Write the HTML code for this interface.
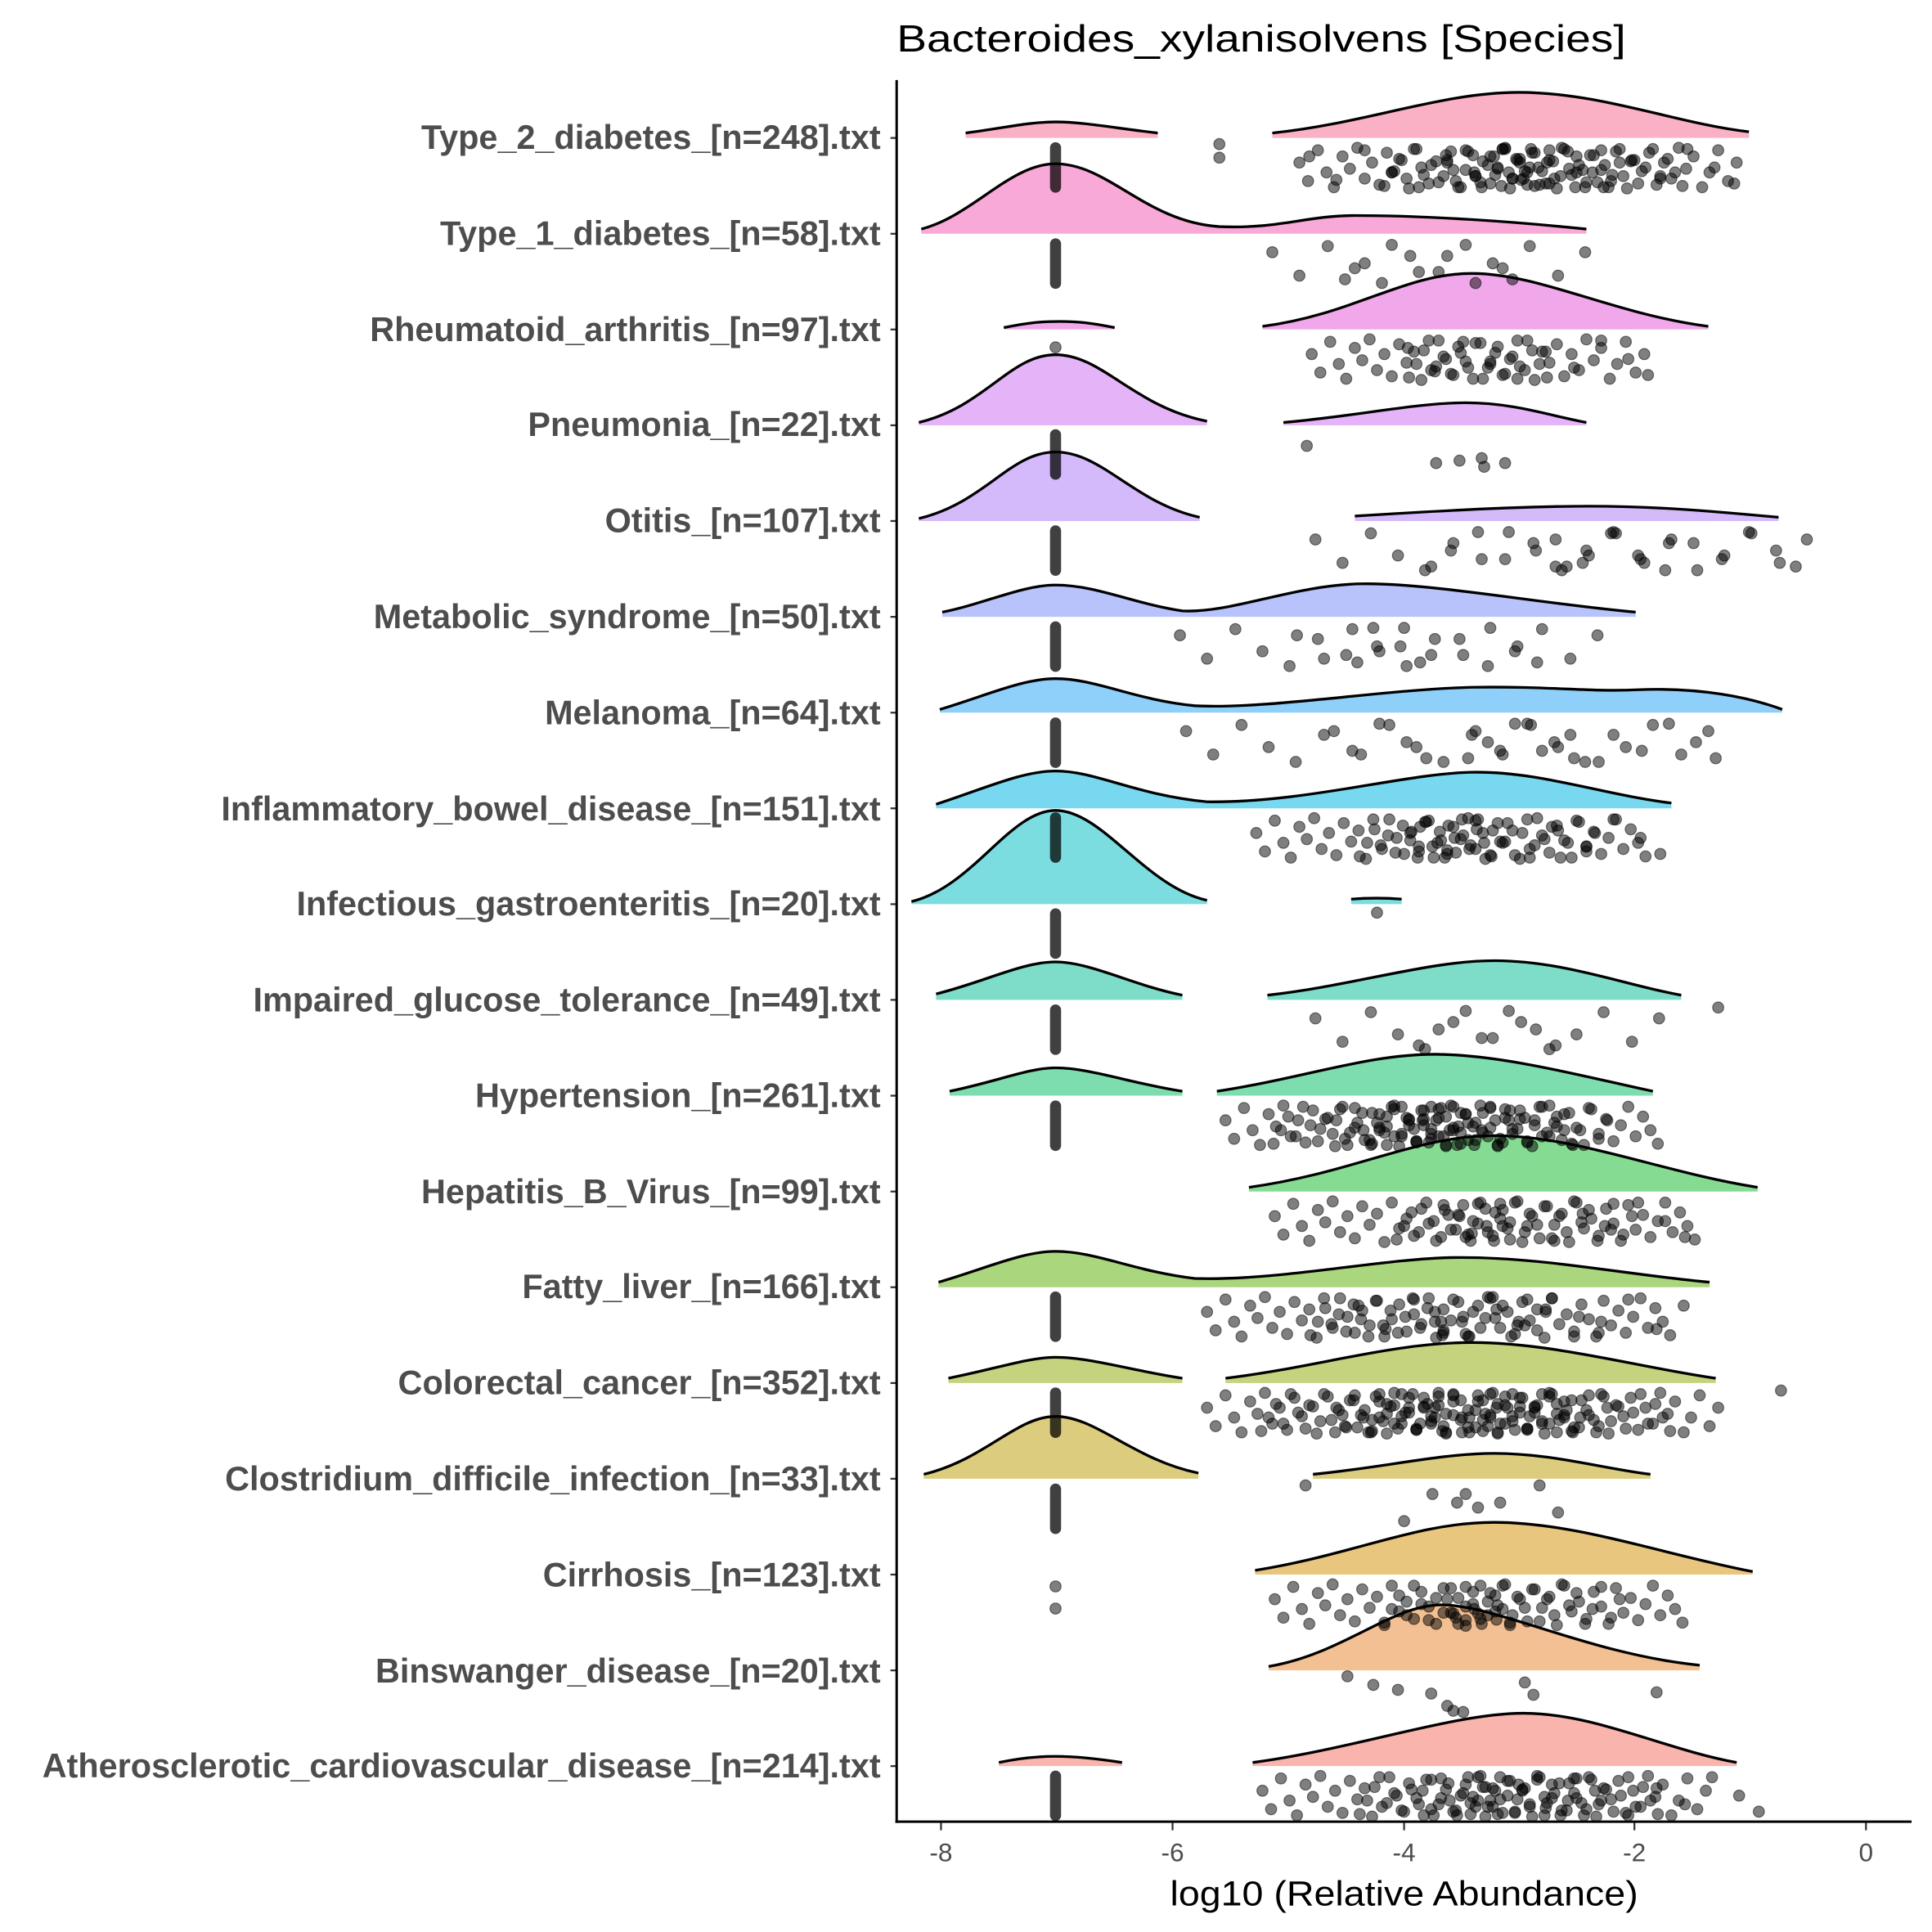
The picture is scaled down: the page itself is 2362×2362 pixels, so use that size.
<!DOCTYPE html>
<html><head><meta charset="utf-8"><style>html,body{margin:0;padding:0;background:#fff}svg{display:block}</style></head>
<body>
<svg width="2362" height="2362" viewBox="0 0 1568.6 1568.6" xmlns="http://www.w3.org/2000/svg" xmlns:xlink="http://www.w3.org/1999/xlink" font-family="Liberation Sans, Arial, sans-serif">
<defs>
<g id="A" fill="#000" fill-opacity="0.5" stroke="#000" stroke-opacity="0.5" stroke-width="0.8">
<circle cx="5" cy="20" r="4.5"/><circle cx="12" cy="35" r="4.5"/><circle cx="20" cy="10" r="4.5"/><circle cx="27" cy="28" r="4.5"/><circle cx="33" cy="40" r="4.5"/><circle cx="40" cy="15" r="4.5"/><circle cx="46" cy="25" r="4.5"/><circle cx="52" cy="8" r="4.5"/><circle cx="58" cy="33" r="4.5"/><circle cx="64" cy="20" r="4.5"/><circle cx="70" cy="38" r="4.5"/><circle cx="76" cy="12" r="4.5"/><circle cx="82" cy="27" r="4.5"/><circle cx="88" cy="18" r="4.5"/><circle cx="94" cy="41" r="4.5"/><circle cx="100" cy="9" r="4.5"/><circle cx="106" cy="30" r="4.5"/><circle cx="112" cy="22" r="4.5"/><circle cx="118" cy="36" r="4.5"/><circle cx="124" cy="14" r="4.5"/><circle cx="130" cy="26" r="4.5"/><circle cx="136" cy="40" r="4.5"/><circle cx="142" cy="11" r="4.5"/><circle cx="148" cy="31" r="4.5"/><circle cx="154" cy="19" r="4.5"/><circle cx="160" cy="37" r="4.5"/><circle cx="166" cy="24" r="4.5"/><circle cx="172" cy="9" r="4.5"/><circle cx="178" cy="33" r="4.5"/><circle cx="184" cy="17" r="4.5"/><circle cx="190" cy="28" r="4.5"/><circle cx="196" cy="39" r="4.5"/>
</g>
<g id="B" fill="#000" fill-opacity="0.5" stroke="#000" stroke-opacity="0.5" stroke-width="0.8">
<circle cx="3" cy="15" r="4.5"/><circle cx="25" cy="34" r="4.5"/><circle cx="48" cy="10" r="4.5"/><circle cx="70" cy="28" r="4.5"/><circle cx="92" cy="40" r="4.5"/><circle cx="115" cy="18" r="4.5"/><circle cx="138" cy="31" r="4.5"/><circle cx="160" cy="9" r="4.5"/><circle cx="182" cy="24" r="4.5"/><circle cx="198" cy="37" r="4.5"/>
</g>
</defs>
<rect width="1568.6" height="1568.6" fill="#fff"/>

<g stroke="none">
<path fill="#FBB1C5" d="M784,112 L784,108 C815,104 835,99 857,99 C880,99 905,104 940,108 L940,112Z"/>
<path fill="#FBB1C5" d="M1033,112 L1033,108 C1110,100 1170,75 1233,75 C1300,75 1360,100 1420,107 L1420,112Z"/>
<path fill="#F9A9D8" d="M748,189.8 L748,186 C790,175 820,133 857,133 C900,133 930,180 990,184 C1040,186 1060,175 1100,175 C1160,175 1230,180 1288,186 L1288,189.8Z"/>
<path fill="#F0A8EA" d="M815,267.5 L815,266 C835,262 845,261 860,261 C875,261 885,262 905,266 L905,267.5Z"/>
<path fill="#F0A8EA" d="M1025,267.5 L1025,265 C1100,255 1140,222 1195,222 C1250,222 1310,255 1387,265 L1387,267.5Z"/>
<path fill="#E5B4F8" d="M746,345.3 L746,343 C800,330 820,288 857,288 C895,288 920,330 980,342 L980,345.3Z"/>
<path fill="#E5B4F8" d="M1042,345.3 L1042,343 C1100,338 1150,327 1190,327 C1230,327 1260,338 1288,343 L1288,345.3Z"/>
<path fill="#D4B9FB" d="M746,423 L746,421 C800,408 820,367 857,367 C895,367 920,408 974,420 L974,423Z"/>
<path fill="#D4B9FB" d="M1100,423 L1100,419 C1180,414 1240,411 1290,411 C1350,411 1400,416 1444,420 L1444,423Z"/>
<path fill="#B7C3FA" d="M765,500.8 L765,497 C800,490 830,475 857,475 C890,475 920,490 960,496 C1000,498 1050,475 1105,474 C1160,473 1250,490 1328,497 L1328,500.8Z"/>
<path fill="#8FD0FB" d="M763,578.6 L763,576 C800,565 830,551 857,551 C890,551 920,568 970,573 C1030,576 1120,560 1195,558 C1260,557 1290,562 1330,560 C1380,558 1420,566 1447,576 L1447,578.6Z"/>
<path fill="#77D8F0" d="M760,656.3 L760,653 C800,640 830,626 857,626 C890,626 920,645 980,651 C1060,652 1140,628 1195,627 C1250,626 1300,645 1357,652 L1357,656.3Z"/>
<path fill="#7CDDE0" d="M740,734.1 L740,732 C790,720 820,658 857,658 C895,658 930,720 980,731 L980,734.1Z"/>
<path fill="#7CDDE0" d="M1097,734.1 L1097,730 C1110,729 1125,729 1138,730 L1138,734.1Z"/>
<path fill="#7EDDC8" d="M760,811.8 L760,807 C800,797 830,781 857,781 C885,781 920,800 960,808 L960,811.8Z"/>
<path fill="#7EDDC8" d="M1029,811.8 L1029,808 C1100,800 1160,780 1213,780 C1270,780 1320,800 1365,808 L1365,811.8Z"/>
<path fill="#7EDDAE" d="M771,889.6 L771,886 C810,878 835,867 857,867 C885,867 920,880 960,886 L960,889.6Z"/>
<path fill="#7EDDAE" d="M988,889.6 L988,886 C1060,875 1110,856 1165,856 C1220,856 1290,875 1342,886 L1342,889.6Z"/>
<path fill="#86DB93" d="M1014,967.4 L1014,964 C1100,952 1150,922 1213,922 C1280,922 1350,952 1427,964 L1427,967.4Z"/>
<path fill="#AAD67E" d="M762,1045.1 L762,1041 C800,1030 830,1016 857,1016 C890,1016 920,1032 970,1038 C1040,1040 1120,1022 1180,1021 C1250,1020 1320,1035 1388,1041 L1388,1045.1Z"/>
<path fill="#C5D27E" d="M770,1122.9 L770,1119 C810,1111 835,1102 857,1102 C885,1102 920,1113 960,1119 L960,1122.9Z"/>
<path fill="#C5D27E" d="M995,1122.9 L995,1119 C1070,1110 1130,1090 1195,1090 C1260,1090 1330,1110 1393,1119 L1393,1122.9Z"/>
<path fill="#DBCC7E" d="M750,1200.6 L750,1197 C800,1185 825,1150 857,1150 C890,1150 920,1185 973,1196 L973,1200.6Z"/>
<path fill="#DBCC7E" d="M1066,1200.6 L1066,1197 C1120,1192 1170,1180 1213,1180 C1260,1180 1300,1192 1340,1197 L1340,1200.6Z"/>
<path fill="#E8C67E" d="M1019,1278.4 L1019,1275 C1100,1262 1150,1236 1213,1236 C1280,1236 1350,1262 1423,1276 L1423,1278.4Z"/>
<path fill="#F2C093" d="M1030,1356.2 L1030,1353 C1090,1343 1130,1303 1170,1303 C1215,1303 1290,1343 1380,1352 L1380,1356.2Z"/>
<path fill="#FAB4AE" d="M811,1433.9 L811,1431 C830,1427 845,1426 857,1426 C870,1426 885,1427 911,1431 L911,1433.9Z"/>
<path fill="#FAB4AE" d="M1017,1433.9 L1017,1431 C1100,1420 1180,1391 1237,1391 C1295,1391 1350,1420 1410,1431 L1410,1433.9Z"/>
</g>
<g fill="none" stroke="#000" stroke-width="2.2">
<path d="M784,108 C815,104 835,99 857,99 C880,99 905,104 940,108"/>
<path d="M1033,108 C1110,100 1170,75 1233,75 C1300,75 1360,100 1420,107"/>
<path d="M748,186 C790,175 820,133 857,133 C900,133 930,180 990,184 C1040,186 1060,175 1100,175 C1160,175 1230,180 1288,186"/>
<path d="M815,266 C835,262 845,261 860,261 C875,261 885,262 905,266"/>
<path d="M1025,265 C1100,255 1140,222 1195,222 C1250,222 1310,255 1387,265"/>
<path d="M746,343 C800,330 820,288 857,288 C895,288 920,330 980,342"/>
<path d="M1042,343 C1100,338 1150,327 1190,327 C1230,327 1260,338 1288,343"/>
<path d="M746,421 C800,408 820,367 857,367 C895,367 920,408 974,420"/>
<path d="M1100,419 C1180,414 1240,411 1290,411 C1350,411 1400,416 1444,420"/>
<path d="M765,497 C800,490 830,475 857,475 C890,475 920,490 960,496 C1000,498 1050,475 1105,474 C1160,473 1250,490 1328,497"/>
<path d="M763,576 C800,565 830,551 857,551 C890,551 920,568 970,573 C1030,576 1120,560 1195,558 C1260,557 1290,562 1330,560 C1380,558 1420,566 1447,576"/>
<path d="M760,653 C800,640 830,626 857,626 C890,626 920,645 980,651 C1060,652 1140,628 1195,627 C1250,626 1300,645 1357,652"/>
<path d="M740,732 C790,720 820,658 857,658 C895,658 930,720 980,731"/>
<path d="M1097,730 C1110,729 1125,729 1138,730"/>
<path d="M760,807 C800,797 830,781 857,781 C885,781 920,800 960,808"/>
<path d="M1029,808 C1100,800 1160,780 1213,780 C1270,780 1320,800 1365,808"/>
<path d="M771,886 C810,878 835,867 857,867 C885,867 920,880 960,886"/>
<path d="M988,886 C1060,875 1110,856 1165,856 C1220,856 1290,875 1342,886"/>
<path d="M1014,964 C1100,952 1150,922 1213,922 C1280,922 1350,952 1427,964"/>
<path d="M762,1041 C800,1030 830,1016 857,1016 C890,1016 920,1032 970,1038 C1040,1040 1120,1022 1180,1021 C1250,1020 1320,1035 1388,1041"/>
<path d="M770,1119 C810,1111 835,1102 857,1102 C885,1102 920,1113 960,1119"/>
<path d="M995,1119 C1070,1110 1130,1090 1195,1090 C1260,1090 1330,1110 1393,1119"/>
<path d="M750,1197 C800,1185 825,1150 857,1150 C890,1150 920,1185 973,1196"/>
<path d="M1066,1197 C1120,1192 1170,1180 1213,1180 C1260,1180 1300,1192 1340,1197"/>
<path d="M1019,1275 C1100,1262 1150,1236 1213,1236 C1280,1236 1350,1262 1423,1276"/>
<path d="M1030,1353 C1090,1343 1130,1303 1170,1303 C1215,1303 1290,1343 1380,1352"/>
<path d="M811,1431 C830,1427 845,1426 857,1426 C870,1426 885,1427 911,1431"/>
<path d="M1017,1431 C1100,1420 1180,1391 1237,1391 C1295,1391 1350,1420 1410,1431"/>
</g>

<!-- columns at -7 -->
<g stroke="#000" stroke-opacity="0.75" stroke-width="9" stroke-linecap="round">
<line x1="857" y1="120" x2="857" y2="152"/>
<line x1="857" y1="198" x2="857" y2="230"/>
<line x1="857" y1="353" x2="857" y2="385"/>
<line x1="857" y1="431" x2="857" y2="463"/>
<line x1="857" y1="509" x2="857" y2="541"/>
<line x1="857" y1="587" x2="857" y2="619"/>
<line x1="857" y1="664" x2="857" y2="696"/>
<line x1="857" y1="742" x2="857" y2="774"/>
<line x1="857" y1="820" x2="857" y2="852"/>
<line x1="857" y1="898" x2="857" y2="930"/>
<line x1="857" y1="1053" x2="857" y2="1085"/>
<line x1="857" y1="1131" x2="857" y2="1163"/>
<line x1="857" y1="1209" x2="857" y2="1241"/>
<line x1="857" y1="1442" x2="857" y2="1474"/>
</g>

<!-- scatter clouds -->
<use xlink:href="#A" transform="translate(1050,112)"/>
<use xlink:href="#A" transform="translate(1320,112) scale(-1,1)"/>
<use xlink:href="#A" transform="translate(1170,112)"/>
<use xlink:href="#A" transform="translate(1415,112) scale(-1,1)"/>
<use xlink:href="#B" transform="translate(1060,112)"/>
<use xlink:href="#B" transform="translate(1210,112)"/>
<use xlink:href="#B" transform="translate(1030,189.8)"/>
<use xlink:href="#B" transform="translate(1290,189.8) scale(-1,1)"/>
<use xlink:href="#A" transform="translate(1060,267.5)"/>
<use xlink:href="#A" transform="translate(1340,267.5) scale(-1,1)"/>
<use xlink:href="#B" transform="translate(1140,267.5)"/>
<use xlink:href="#B" transform="translate(1065,423)"/>
<use xlink:href="#B" transform="translate(1360,423) scale(-1,1)"/>
<use xlink:href="#B" transform="translate(1260,423)"/>
<use xlink:href="#B" transform="translate(1470,423) scale(-1,1)"/>
<use xlink:href="#B" transform="translate(955,500.8)"/>
<use xlink:href="#B" transform="translate(1050,500.8)"/>
<use xlink:href="#B" transform="translate(1300,500.8) scale(-1,1)"/>
<use xlink:href="#B" transform="translate(960,578.6)"/>
<use xlink:href="#B" transform="translate(1080,578.6)"/>
<use xlink:href="#B" transform="translate(1390,578.6) scale(-1,1)"/>
<use xlink:href="#B" transform="translate(1195,578.6)"/>
<use xlink:href="#A" transform="translate(1015,656.3)"/>
<use xlink:href="#A" transform="translate(1300,656.3) scale(-1,1)"/>
<use xlink:href="#A" transform="translate(1140,656.3)"/>
<use xlink:href="#B" transform="translate(1150,656.3)"/>
<use xlink:href="#B" transform="translate(1065,811.8)"/>
<use xlink:href="#B" transform="translate(1350,811.8) scale(-1,1)"/>
<use xlink:href="#A" transform="translate(990,889.6)"/>
<use xlink:href="#A" transform="translate(1230,889.6) scale(-1,1)"/>
<use xlink:href="#A" transform="translate(1080,889.6)"/>
<use xlink:href="#A" transform="translate(1310,889.6) scale(-1,1)"/>
<use xlink:href="#A" transform="translate(1150,889.6)"/>
<use xlink:href="#A" transform="translate(1030,967.4)"/>
<use xlink:href="#A" transform="translate(1330,967.4) scale(-1,1)"/>
<use xlink:href="#A" transform="translate(1180,967.4)"/>
<use xlink:href="#B" transform="translate(1170,967.4)"/>
<use xlink:href="#A" transform="translate(975,1045.1)"/>
<use xlink:href="#A" transform="translate(1260,1045.1) scale(-1,1)"/>
<use xlink:href="#A" transform="translate(1160,1045.1)"/>
<use xlink:href="#B" transform="translate(1100,1045.1)"/>
<use xlink:href="#B" transform="translate(1370,1045.1) scale(-1,1)"/>
<use xlink:href="#A" transform="translate(975,1122.9)"/>
<use xlink:href="#A" transform="translate(1220,1122.9) scale(-1,1)"/>
<use xlink:href="#A" transform="translate(1080,1122.9)"/>
<use xlink:href="#A" transform="translate(1310,1122.9) scale(-1,1)"/>
<use xlink:href="#A" transform="translate(1160,1122.9)"/>
<use xlink:href="#A" transform="translate(1400,1122.9) scale(-1,1)"/>
<use xlink:href="#A" transform="translate(1030,1278.4)"/>
<use xlink:href="#A" transform="translate(1320,1278.4) scale(-1,1)"/>
<use xlink:href="#A" transform="translate(1170,1278.4)"/>
<use xlink:href="#A" transform="translate(1020,1433.9)"/>
<use xlink:href="#A" transform="translate(1300,1433.9) scale(-1,1)"/>
<use xlink:href="#A" transform="translate(1150,1433.9)"/>
<use xlink:href="#A" transform="translate(1390,1433.9) scale(-1,1)"/>
<use xlink:href="#B" transform="translate(1230,1433.9)"/>

<g fill="#000" fill-opacity="0.5" stroke="#000" stroke-opacity="0.5" stroke-width="0.8">
<circle cx="990" cy="117" r="4.5"/><circle cx="990" cy="128" r="4.5"/>
<circle cx="857" cy="282" r="4.5"/>
<circle cx="1061" cy="362" r="4.5"/><circle cx="1166" cy="376" r="4.5"/><circle cx="1185" cy="374" r="4.5"/><circle cx="1203" cy="372" r="4.5"/><circle cx="1205" cy="379" r="4.5"/><circle cx="1222" cy="376" r="4.5"/>
<circle cx="1118" cy="741" r="4.5"/>
<circle cx="1395" cy="818" r="4.5"/>
<circle cx="1446" cy="1129" r="4.5"/>
<circle cx="1060" cy="1206" r="4.5"/><circle cx="1163" cy="1213" r="4.5"/><circle cx="1183" cy="1220" r="4.5"/><circle cx="1200" cy="1224" r="4.5"/><circle cx="1218" cy="1220" r="4.5"/><circle cx="1265" cy="1228" r="4.5"/><circle cx="1250" cy="1206" r="4.5"/><circle cx="1140" cy="1235" r="4.5"/><circle cx="1190" cy="1213" r="4.5"/>
<circle cx="857" cy="1288" r="4.5"/><circle cx="857" cy="1306" r="4.5"/>
<circle cx="1094" cy="1361" r="4.5"/><circle cx="1115" cy="1368" r="4.5"/><circle cx="1135" cy="1372" r="4.5"/><circle cx="1162" cy="1375" r="4.5"/><circle cx="1175" cy="1385" r="4.5"/><circle cx="1180" cy="1389" r="4.5"/><circle cx="1188" cy="1390" r="4.5"/><circle cx="1238" cy="1366" r="4.5"/><circle cx="1245" cy="1376" r="4.5"/><circle cx="1345" cy="1374" r="4.5"/><circle cx="1190" cy="1320" r="4.5"/><circle cx="1180" cy="1310" r="4.5"/><circle cx="1200" cy="1310" r="4.5"/><circle cx="1215" cy="1315" r="4.5"/>
</g>

<text x="728" y="42" font-size="31" fill="#000" textLength="592" lengthAdjust="spacingAndGlyphs">Bacteroides_xylanisolvens [Species]</text>
<g font-size="27.5" font-weight="bold" fill="#4D4D4D" text-anchor="end">
<text x="715" y="121">Type_2_diabetes_[n=248].txt</text>
<text x="715" y="199">Type_1_diabetes_[n=58].txt</text>
<text x="715" y="277">Rheumatoid_arthritis_[n=97].txt</text>
<text x="715" y="354">Pneumonia_[n=22].txt</text>
<text x="715" y="432">Otitis_[n=107].txt</text>
<text x="715" y="510">Metabolic_syndrome_[n=50].txt</text>
<text x="715" y="588">Melanoma_[n=64].txt</text>
<text x="715" y="666">Inflammatory_bowel_disease_[n=151].txt</text>
<text x="715" y="743">Infectious_gastroenteritis_[n=20].txt</text>
<text x="715" y="821">Impaired_glucose_tolerance_[n=49].txt</text>
<text x="715" y="899">Hypertension_[n=261].txt</text>
<text x="715" y="977">Hepatitis_B_Virus_[n=99].txt</text>
<text x="715" y="1054">Fatty_liver_[n=166].txt</text>
<text x="715" y="1132">Colorectal_cancer_[n=352].txt</text>
<text x="715" y="1210">Clostridium_difficile_infection_[n=33].txt</text>
<text x="715" y="1288">Cirrhosis_[n=123].txt</text>
<text x="715" y="1366">Binswanger_disease_[n=20].txt</text>
<text x="715" y="1443">Atherosclerotic_cardiovascular_disease_[n=214].txt</text>
</g>
<g stroke="#333" stroke-width="1.5">
<line x1="723" x2="728" y1="112" y2="112"/><line x1="723" x2="728" y1="189.8" y2="189.8"/><line x1="723" x2="728" y1="267.5" y2="267.5"/><line x1="723" x2="728" y1="345.3" y2="345.3"/><line x1="723" x2="728" y1="423" y2="423"/><line x1="723" x2="728" y1="500.8" y2="500.8"/><line x1="723" x2="728" y1="578.6" y2="578.6"/><line x1="723" x2="728" y1="656.3" y2="656.3"/><line x1="723" x2="728" y1="734.1" y2="734.1"/><line x1="723" x2="728" y1="811.8" y2="811.8"/><line x1="723" x2="728" y1="889.6" y2="889.6"/><line x1="723" x2="728" y1="967.4" y2="967.4"/><line x1="723" x2="728" y1="1045.1" y2="1045.1"/><line x1="723" x2="728" y1="1122.9" y2="1122.9"/><line x1="723" x2="728" y1="1200.6" y2="1200.6"/><line x1="723" x2="728" y1="1278.4" y2="1278.4"/><line x1="723" x2="728" y1="1356.2" y2="1356.2"/><line x1="723" x2="728" y1="1433.9" y2="1433.9"/>
<line x1="764" x2="764" y1="1480" y2="1486"/><line x1="952" x2="952" y1="1480" y2="1486"/><line x1="1140" x2="1140" y1="1480" y2="1486"/><line x1="1327" x2="1327" y1="1480" y2="1486"/><line x1="1515" x2="1515" y1="1480" y2="1486"/>
</g>
<line x1="728" y1="65" x2="728" y2="1480" stroke="#000" stroke-width="2"/>
<line x1="727" y1="1479" x2="1552" y2="1479" stroke="#000" stroke-width="2"/>
<g font-size="21" fill="#4D4D4D" text-anchor="middle">
<text x="764" y="1511">-8</text><text x="952" y="1511">-6</text><text x="1140" y="1511">-4</text><text x="1327" y="1511">-2</text><text x="1515" y="1511">0</text>
</g>
<text x="1140" y="1547" font-size="28" fill="#000" text-anchor="middle" textLength="380" lengthAdjust="spacingAndGlyphs">log10 (Relative Abundance)</text>
</svg>
</body></html>
